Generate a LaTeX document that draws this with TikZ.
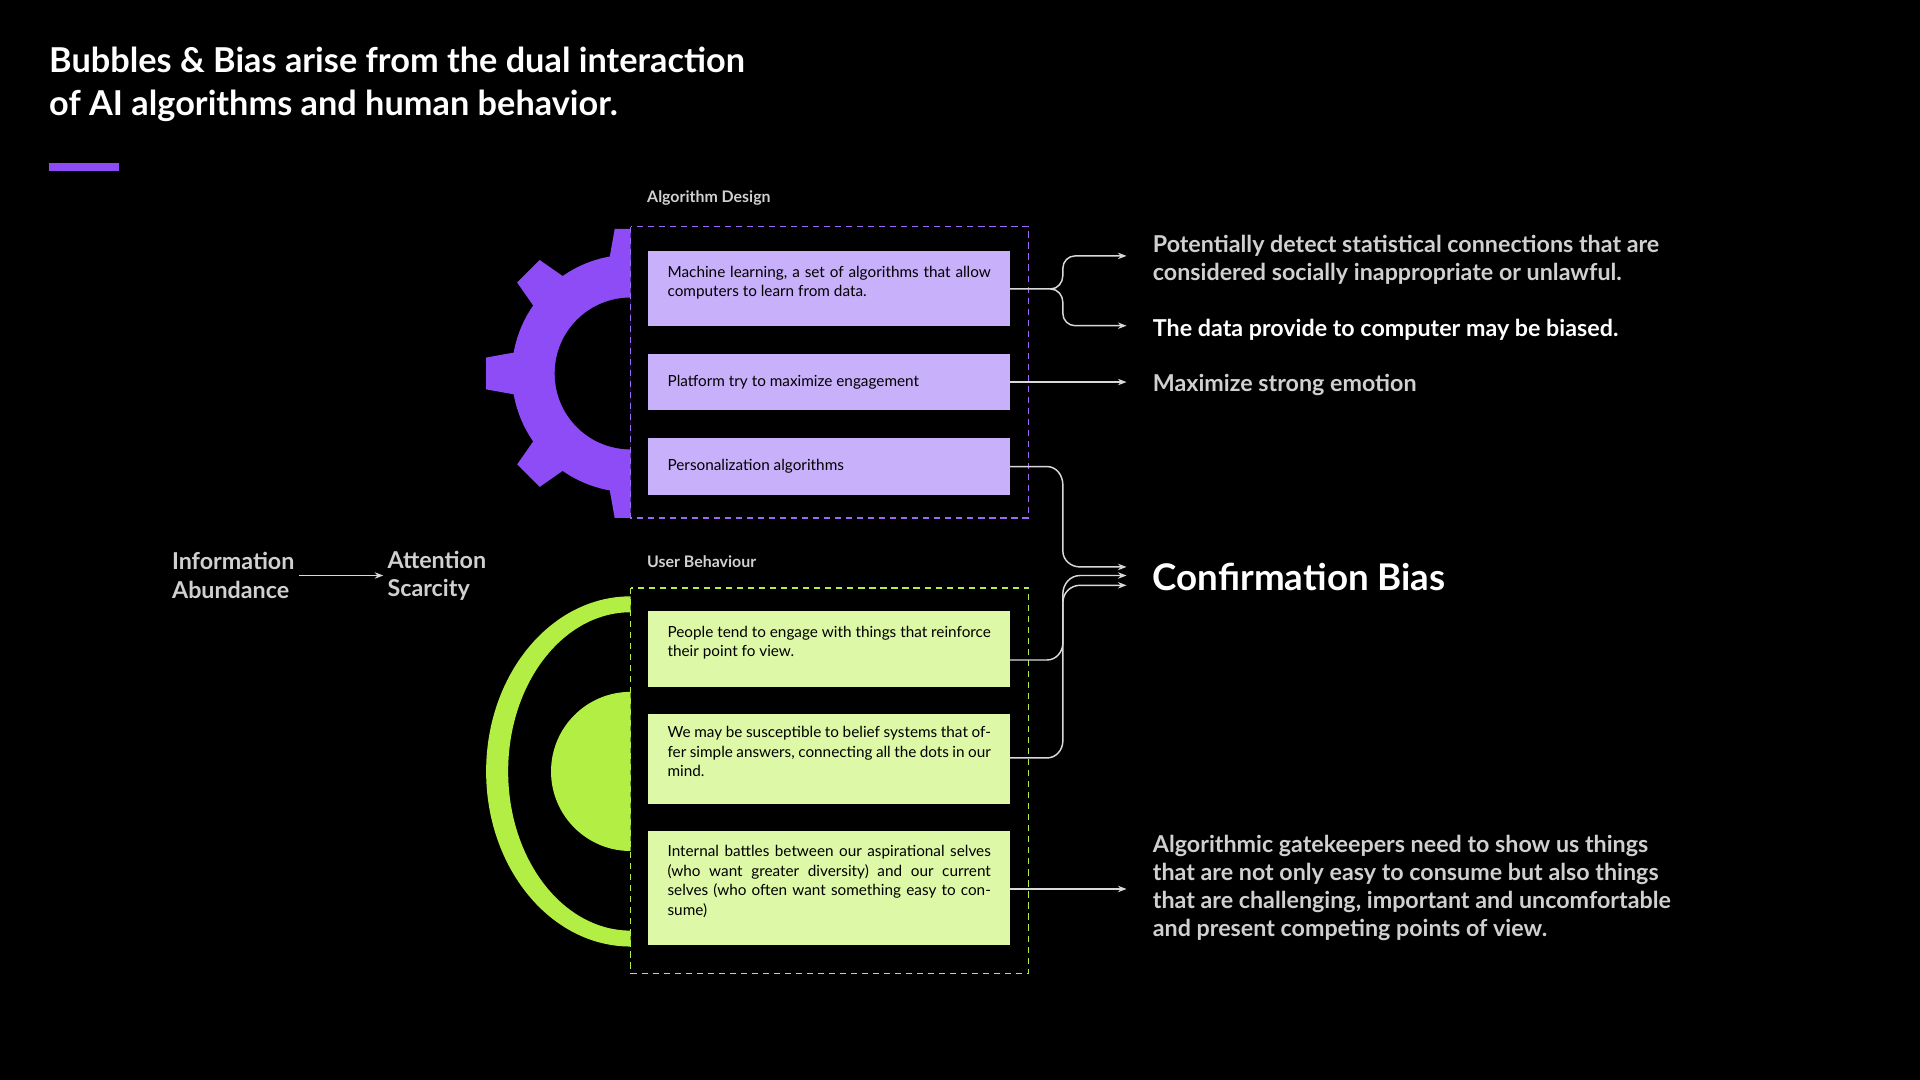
\documentclass[tikz,border=0pt]{standalone}
\usepackage{fontspec}
\setmainfont{Lato}
\usetikzlibrary{arrows.meta}
\definecolor{pur}{HTML}{8E4CF7}
\definecolor{lpur}{HTML}{C9B0FB}
\definecolor{grn}{HTML}{B3EE45}
\definecolor{lgrn}{HTML}{DDF8A6}
\definecolor{gry}{HTML}{D0D0D0}
\tikzset{
 box/.style={anchor=north west,inner xsep=16pt,inner ysep=0pt,text width=264pt,align=justify,font=\fontsize{12.5}{16}\selectfont,text=black},
 conn/.style={draw=gry!80,line width=1.2pt,-{Stealth[length=7pt]}},
 rt/.style={anchor=west,font=\fontsize{19}{23}\selectfont\bfseries,text=gry,align=left},
 lab/.style={anchor=west,font=\fontsize{13}{16}\selectfont\bfseries,text=gry}
}
\begin{document}
\begin{tikzpicture}[x=1pt,y=-1pt]
\fill[black] (0,0) rectangle (1568,882);
\useasboundingbox (0,0) rectangle (1568,882);
\node[anchor=north west,inner sep=0,font=\fontsize{28}{35}\selectfont\bfseries,text=white,align=left] (title) at (40,38) {Bubbles \& Bias arise from the dual interaction\\of AI algorithms and human behavior.};
\fill[pur] (40,133) rectangle (97,140);
% gear
\begin{scope}
\clip (380,170) rectangle (515,440);
\fill[pur] (515,305) circle (97);
\foreach \a in {0,45,...,315}{
 \fill[pur,rotate around={\a:(515,305)}] (497,215) -- (502,187) -- (528,187) -- (533,215) -- cycle;
}
\fill[black] (515,305) circle (62);
\end{scope}
% green shapes
\fill[grn] (515,487) arc[start angle=-90,end angle=-270,x radius=118,y radius=143] -- (515,760) arc[start angle=90,end angle=270,x radius=100,y radius=130] -- cycle;
\fill[grn] (515,565) arc[start angle=-90,end angle=-270,radius=65] -- cycle;
% frames
\node[lab] (ad) at (525,162) {Algorithm Design};
\draw[pur!85,line width=1.3pt,dash pattern=on 5pt off 4pt] (515,185) rectangle (840,423);
\node[lab] (ub) at (525,459) {User Behaviour};
\draw[grn,line width=1.3pt,dash pattern=on 5pt off 4pt] (515,480) rectangle (840,795);
% boxes
\fill[lpur] (529,205) rectangle (825,266);
\node[box] (b1) at (529,217) {Machine learning, a set of algorithms that allow computers to learn from data.};
\fill[lpur] (529,289) rectangle (825,335);
\node[box,anchor=west] (b2) at (529,312) {Platform try to maximize engagement};
\fill[lpur] (529,358) rectangle (825,404);
\node[box,anchor=west] (b3) at (529,381) {Personalization algorithms};
\fill[lgrn] (529,499) rectangle (825,561);
\node[box] (g1) at (529,511) {People tend to engage with things that reinforce their point fo view.};
\fill[lgrn] (529,583) rectangle (825,657);
\node[box] (g2) at (529,593) {We may be susceptible to belief systems that offer simple answers, connecting all the dots in our mind.};
\fill[lgrn] (529,679) rectangle (825,772);
\node[box] (g3) at (529,690) {Internal battles between our aspirational selves (who want greater diversity) and our current selves (who often want something easy to consume)};
% right texts
\node[rt] (r1) at (938,212) {Potentially detect statistical connections that are\\considered socially inappropriate or unlawful.};
\node[rt,text=white] (r2) at (938,269) {The data provide to computer may be biased.};
\node[rt] (r3) at (938,314) {Maximize strong emotion};
\node[rt,text=white,font=\fontsize{30}{36}\selectfont\bfseries] (cb) at (938,471) {Confirmation Bias};
\node[rt] (r4) at (938,725) {Algorithmic gatekeepers need to show us things\\that are not only easy to consume but also things\\that are challenging, important and uncomfortable\\and present competing points of view.};
\node[rt] (ia) at (137,470) {Information\\Abundance};
\node[rt] (as) at (313,470) {Attention\\Scarcity};
% connectors
\coordinate (c1) at (825,236);
\coordinate (c2) at (825,312);
\coordinate (c3) at (825,381);
\coordinate (c4) at (825,539);
\coordinate (c5) at (825,619);
\coordinate (c6) at (825,726);
\draw[conn] (c1) -- (858,236) to[out=0,in=-90] (868,225) -- (868,219) to[out=90,in=180] (878,209) -- (920,209);
\draw[conn] (858,236) to[out=0,in=90] (868,247) -- (868,256) to[out=-90,in=180] (878,266) -- (920,266);
\draw[conn] (c2) -- (920,312);
\draw[conn] (c3) -- (855,381) to[out=0,in=90] (868,396) -- (868,450) to[out=-90,in=180] (882,463) -- (920,463);
\draw[conn] (c4) -- (855,539) to[out=0,in=-90] (868,525) -- (868,485) to[out=90,in=180] (882,470) -- (920,470);
\draw[conn] (c5) -- (855,619) to[out=0,in=-90] (868,605) -- (868,492) to[out=90,in=180] (882,478) -- (920,478);
\draw[conn] (c6) -- (920,726);
\draw[conn] (ia) -- (as);
\end{tikzpicture}
\end{document}
